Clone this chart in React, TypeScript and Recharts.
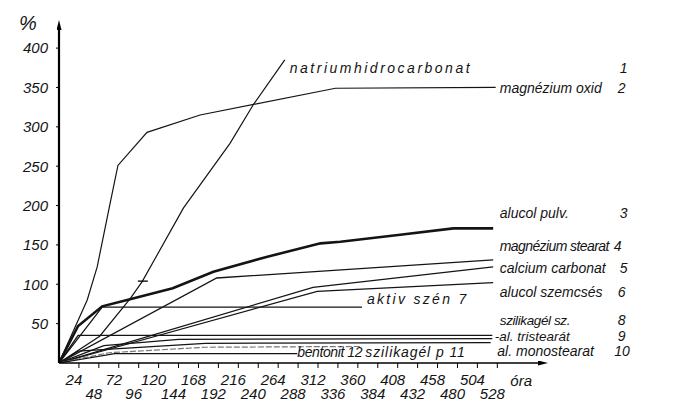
import React from 'react';
import { LineChart, Line, XAxis, YAxis, ReferenceDot, ReferenceLine } from 'recharts';

type P = { h: number; v: number };

// ---- data (hours -> % weight increase) ----
const natriumhidrocarbonat: P[] = [
  { h: 0, v: 0 }, { h: 49, v: 34 }, { h: 86, v: 82 }, { h: 100, v: 103 }, { h: 150, v: 197 },
  { h: 206, v: 279 }, { h: 234, v: 328 }, { h: 272, v: 385 },
];
const magneziumOxid: P[] = [
  { h: 0, v: 0 }, { h: 34, v: 80 }, { h: 46, v: 122 }, { h: 61, v: 200 }, { h: 71, v: 251 },
  { h: 106, v: 293 }, { h: 170, v: 315 }, { h: 333, v: 349 }, { h: 526, v: 350 },
];
const alucolPulv: P[] = [
  { h: 0, v: 0 }, { h: 23, v: 47 }, { h: 52, v: 72 }, { h: 82, v: 80 }, { h: 137, v: 95 },
  { h: 186, v: 116 }, { h: 251, v: 135 }, { h: 315, v: 152 }, { h: 339, v: 154 },
  { h: 411, v: 163 }, { h: 475, v: 171 }, { h: 523, v: 171 },
];
const magneziumStearat: P[] = [{ h: 0, v: 0 }, { h: 190, v: 108 }, { h: 523, v: 131 }];
const calciumCarbonat: P[] = [{ h: 0, v: 0 }, { h: 306, v: 96 }, { h: 523, v: 122 }];
const alucolSzemcses: P[] = [{ h: 0, v: 0 }, { h: 311, v: 91 }, { h: 523, v: 102 }];
const aktivSzen: P[] = [{ h: 0, v: 0 }, { h: 52, v: 71 }, { h: 365, v: 71 }];
const szilikagelSz: P[] = [{ h: 0, v: 0 }, { h: 23, v: 35 }, { h: 522, v: 35 }];
const alTristearat: P[] = [{ h: 0, v: 0 }, { h: 54, v: 22 }, { h: 144, v: 30 }, { h: 522, v: 31 }];
const alMonostearat: P[] = [{ h: 0, v: 0 }, { h: 23, v: 15 }, { h: 176, v: 25 }, { h: 520, v: 26 }];
const szilikagelP: P[] = [{ h: 0, v: 0 }, { h: 60, v: 13 }, { h: 176, v: 20 }, { h: 365, v: 21 }];
const bentonit: P[] = [{ h: 0, v: 0 }, { h: 67, v: 12 }, { h: 287, v: 12 }];

const xTickValues = [24, 48, 72, 96, 120, 144, 168, 192, 216, 240, 264, 288, 312, 336, 360, 384, 408, 432, 456, 480, 504, 528];
const xTickLabels = ['24', '48', '72', '96', '120', '144', '168', '192', '216', '240', '264', '288', '312', '336', '360', '384', '408', '432', '458', '480', '504', '528'];
const yTickValues = [50, 100, 150, 200, 250, 300, 350, 400];

const seriesNames = [
  'natriumhidrocarbonat', 'magnézium oxid', 'alucol pulv.', 'magnézium stearat', 'calcium carbonat',
  'alucol szemcsés', 'aktiv szén 7', 'szilikagél sz.', '-al. tristearát', 'al. monostearat',
  'szilikagél p 11', 'bentonit 12',
];
const seriesNumbers = ['1', '2', '3', '4', '5', '6', '', '8', '9', '10', '', ''];
const seriesData = [
  natriumhidrocarbonat, magneziumOxid, alucolPulv, magneziumStearat, calciumCarbonat,
  alucolSzemcses, aktivSzen, szilikagelSz, alTristearat, alMonostearat, szilikagelP, bentonit,
];

// ---- layout / styles ----
const FONT = '"Liberation Sans", Arial, sans-serif';
const INK = '#141414';
const strokeWidths = [1.2, 1.2, 2.6, 1.3, 1.2, 1.2, 1.3, 1.3, 1.2, 1.2, 1.2, 1.2];
const strokeColors = [INK, INK, INK, INK, INK, INK, INK, INK, INK, INK, '#777', INK];
const labelAnchorH = [278, 531, 531, 531, 531, 531, 371, 531, 525, 528, 369, 287];
const labelAnchorV = [368, 343, 184, 142, 114, 84, 75, 48, 28, 9, 7.6, 7.6];
const labelSpacing = [2.5, 0, 0, -0.6, 0, 0, 2.3, -0.4, 0, 0, 0.9, -0.4];
const labelSizes = [14, 14, 14, 14, 14, 14, 14, 13.5, 13.5, 14, 14, 14];
const numberDx = [330, 118, 120, 114, 120, 118, 0, 118, 123, 117, 0, 0];

function annot(text: string, num: string, numDx: number, size: number, spacing: number) {
  return (props: any) => {
    const vb = props.viewBox || {};
    const x = (vb.x ?? 0) + (vb.width ?? 0) / 2;
    const y = (vb.y ?? 0) + (vb.height ?? 0) / 2;
    return (
      <g>
        <text x={x} y={y} fontSize={size} fontStyle="italic" fontFamily={FONT} fill={INK} letterSpacing={spacing}>{text}</text>
        {num ? (
          <text x={x + numDx} y={y} fontSize={14} fontStyle="italic" fontFamily={FONT} fill={INK}>{num}</text>
        ) : null}
      </g>
    );
  };
}

function annotAt(text: string, dx: number, dy: number, size: number) {
  return (props: any) => {
    const vb = props.viewBox || {};
    const x = (vb.x ?? 0) + (vb.width ?? 0) / 2;
    const y = (vb.y ?? 0) + (vb.height ?? 0) / 2;
    return (
      <text x={x + dx} y={y + dy} fontSize={size} fontStyle="italic" fontFamily={FONT} fill={INK}>{text}</text>
    );
  };
}

const XTick = (props: any) => {
  const { x, y, payload } = props;
  const idx = xTickValues.indexOf(payload.value);
  const row1 = idx % 2 === 0;
  return (
    <text x={x - 5} y={y + (row1 ? 15 : 29)} textAnchor="middle" fontSize={15} fontStyle="italic" fontFamily={FONT} fill={INK}>
      {xTickLabels[idx]}
    </text>
  );
};

export default function App() {
  return (
    <div style={{ width: 671, height: 400, background: '#fff' }}>
      <LineChart width={671} height={400} margin={{ top: 22, right: 141, bottom: 0, left: 0 }}>
        <defs>
          <marker id="arrowHead" viewBox="0 0 12 6" refX="0" refY="3" markerWidth="13" markerHeight="5"
            markerUnits="userSpaceOnUse" orient="auto-start-reverse">
            <path d="M0,0 L12,3 L0,6 z" fill="#000" />
          </marker>
        </defs>
        <XAxis
          type="number"
          dataKey="h"
          domain={[0, 577]}
          ticks={xTickValues}
          interval={0}
          height={45}
          tickSize={5}
          tickMargin={2}
          tick={<XTick />}
          axisLine={{ stroke: '#000', strokeWidth: 1.6, markerEnd: 'url(#arrowHead)' }}
          tickLine={{ stroke: '#000', strokeWidth: 1 }}
          allowDataOverflow
        />
        <YAxis
          type="number"
          dataKey="v"
          domain={[0, 423]}
          ticks={yTickValues}
          interval={0}
          width={51}
          tickSize={3}
          tickMargin={8}
          tick={{ fontSize: 15, fontStyle: 'italic', fontFamily: FONT, fill: INK }}
          axisLine={{ stroke: '#000', strokeWidth: 2.2, markerStart: 'url(#arrowHead)' }}
          tickLine={{ stroke: '#000', strokeWidth: 1 }}
          allowDataOverflow
        />
        {seriesData.map((d, i) => (
          <Line
            key={seriesNames[i]}
            data={d}
            dataKey="v"
            name={seriesNames[i]}
            type="linear"
            stroke={strokeColors[i]}
            strokeWidth={strokeWidths[i]}
            strokeDasharray={i === 10 ? '6 2' : undefined}
            dot={false}
            activeDot={false}
            isAnimationActive={false}
          />
        ))}
        <ReferenceLine segment={[{ x: 95, y: 104 }, { x: 107, y: 104 }]} stroke="#000" strokeWidth={1.3} />
        {seriesNames.map((n, i) => (
          <ReferenceDot
            key={'lbl' + i}
            x={labelAnchorH[i]}
            y={labelAnchorV[i]}
            r={0}
            fill="none"
            stroke="none"
            label={annot(n, seriesNumbers[i], numberDx[i], labelSizes[i], labelSpacing[i])}
          />
        ))}
        <ReferenceDot x={0} y={423} r={0} fill="none" stroke="none" label={annotAt('%', -40, 0, 20)} />
        <ReferenceDot x={528} y={0} r={0} fill="none" stroke="none" label={annotAt('óra', 13, 23, 15)} />
      </LineChart>
    </div>
  );
}
